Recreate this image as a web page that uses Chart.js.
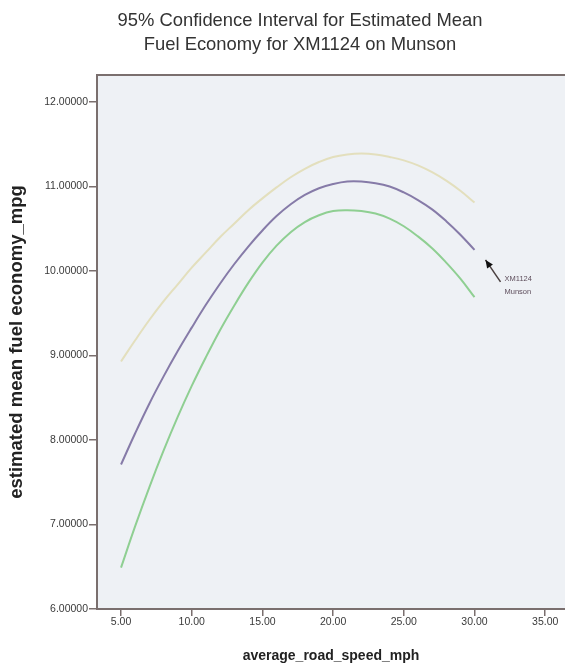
<!DOCTYPE html>
<html><head><meta charset="utf-8">
<script src="https://cdn.jsdelivr.net/npm/chart.js@4.4.0/dist/chart.umd.min.js"></script>
<style>html,body{margin:0;padding:0;background:#fff;overflow:hidden}#wrap{width:565px;height:668px;position:relative}canvas{display:block}</style>
</head><body><div id="wrap"><canvas id="c" width="565" height="668"></canvas></div>
<script>
const titleLines = ["95% Confidence Interval for Estimated Mean", "Fuel Economy for XM1124 on Munson"];
const xTitle = "average_road_speed_mph";
const yTitle = "estimated mean fuel economy_mpg";
const seriesNote = ["XM1124", "Munson"];
const speeds = [5,6,7,8,9,10,11,12,13,14,15,16,17,18,19,20,21,22,23,24,25,26,27,28,29,30];
const meanMpg = [7.71,8.08,8.43,8.75,9.05,9.33,9.60,9.85,10.08,10.29,10.48,10.65,10.79,10.90,10.98,11.03,11.06,11.06,11.04,11.00,10.93,10.84,10.73,10.59,10.43,10.25];
const lowerMpg = [6.49,6.98,7.44,7.87,8.27,8.64,8.98,9.30,9.59,9.86,10.10,10.30,10.46,10.58,10.66,10.71,10.72,10.71,10.68,10.62,10.53,10.41,10.27,10.10,9.91,9.69];
const upperMpg = [8.93,9.18,9.42,9.64,9.84,10.04,10.22,10.40,10.56,10.72,10.86,10.99,11.11,11.21,11.29,11.35,11.38,11.39,11.38,11.35,11.31,11.25,11.17,11.07,10.95,10.81];
const xTicks = [5,10,15,20,25,30,35];
const yTicks = [6,7,8,9,10,11,12];

const AXIS = '#7a6f6e';
const FONT = '"Liberation Sans", Arial, sans-serif';
const pts = arr => speeds.map((x,i)=>({x:x, y:arr[i]}));

const decor = {
  id:'decor',
  beforeDraw(chart){
    const {ctx, chartArea:a} = chart;
    ctx.save();
    ctx.fillStyle = '#eef1f5';
    ctx.fillRect(a.left, a.top, a.right-a.left, a.bottom-a.top);
    ctx.fillStyle = '#333';
    ctx.font = '18.4px ' + FONT;
    ctx.textAlign = 'center';
    ctx.textBaseline = 'middle';
    ctx.fillText(titleLines[0], 300, 21);
    ctx.fillText(titleLines[1], 300, 45);
    ctx.restore();
  },
  afterDraw(chart){
    const {ctx, chartArea:a, scales} = chart;
    ctx.save();
    ctx.strokeStyle = AXIS; ctx.lineWidth = 2;
    ctx.beginPath(); ctx.moveTo(a.left-1, a.top); ctx.lineTo(a.right+2, a.top); ctx.stroke();
    const n = speeds.length-1;
    const px = scales.x.getPixelForValue(speeds[n]);
    const py = scales.y.getPixelForValue(meanMpg[n]);
    const tip = {x:px+11, y:py+10}, tail = {x:px+26, y:py+32};
    ctx.strokeStyle = '#4a4040'; ctx.lineWidth = 1.5;
    ctx.beginPath(); ctx.moveTo(tail.x, tail.y); ctx.lineTo(tip.x, tip.y); ctx.stroke();
    const ang = Math.atan2(tip.y-tail.y, tip.x-tail.x);
    ctx.fillStyle = '#111';
    ctx.beginPath();
    ctx.moveTo(tip.x, tip.y);
    ctx.lineTo(tip.x-8*Math.cos(ang)+3.5*Math.sin(ang), tip.y-8*Math.sin(ang)-3.5*Math.cos(ang));
    ctx.lineTo(tip.x-8*Math.cos(ang)-3.5*Math.sin(ang), tip.y-8*Math.sin(ang)+3.5*Math.cos(ang));
    ctx.closePath(); ctx.fill();
    ctx.fillStyle = '#5e4e5c';
    ctx.font = '7.5px ' + FONT;
    ctx.textAlign = 'left'; ctx.textBaseline = 'middle';
    ctx.fillText(seriesNote[0], px+30, py+29);
    ctx.fillText(seriesNote[1], px+30, py+42);
    ctx.restore();
  }
};

new Chart(document.getElementById('c'), {
  type:'line',
  data:{datasets:[
    {label:'Upper 95% CI', data:pts(upperMpg), borderColor:'#e3dfbd', borderWidth:2},
    {label:'Lower 95% CI', data:pts(lowerMpg), borderColor:'#8fcf92', borderWidth:2},
    {label:'Estimated mean', data:pts(meanMpg), borderColor:'#867ba8', borderWidth:2}
  ]},
  options:{
    responsive:false, animation:false,
    layout:{padding:{top:75,left:0,right:0,bottom:0}},
    elements:{point:{radius:0}, line:{tension:0.4, fill:false}},
    plugins:{legend:{display:false}, title:{display:false}, tooltip:{enabled:false}},
    scales:{
      x:{type:'linear', min:3.3, max:36.4,
        afterBuildTicks:s=>{s.ticks = xTicks.map(v=>({value:v}));},
        afterFit:s=>{s.height = 59;},
        ticks:{callback:v=>Number(v).toFixed(2), font:{size:10.5, family:FONT}, color:'#3a3a3a', padding:0, maxRotation:0, autoSkip:false},
        grid:{display:true, drawOnChartArea:false, drawTicks:true, tickLength:7, color:AXIS, lineWidth:1.5},
        border:{display:true, color:AXIS, width:2},
        title:{display:true, text:xTitle, font:{size:14, weight:'bold', family:FONT, lineHeight:1.2}, color:'#222', padding:{top:0,bottom:3}}
      },
      y:{type:'linear', min:6, max:12.32,
        afterBuildTicks:s=>{s.ticks = yTicks.map(v=>({value:v}));},
        afterFit:s=>{s.width = 97;},
        ticks:{callback:v=>Number(v).toFixed(5), font:{size:10.5, family:FONT}, color:'#3a3a3a', padding:1, autoSkip:false},
        grid:{display:true, drawOnChartArea:false, drawTicks:true, tickLength:8, color:AXIS, lineWidth:1.5},
        border:{display:true, color:AXIS, width:2},
        title:{display:true, text:yTitle, font:{size:18.5, weight:'bold', family:FONT, lineHeight:1.2}, color:'#222', padding:{top:6,bottom:0}}
      }
    }
  },
  plugins:[decor]
});
</script></body></html>
